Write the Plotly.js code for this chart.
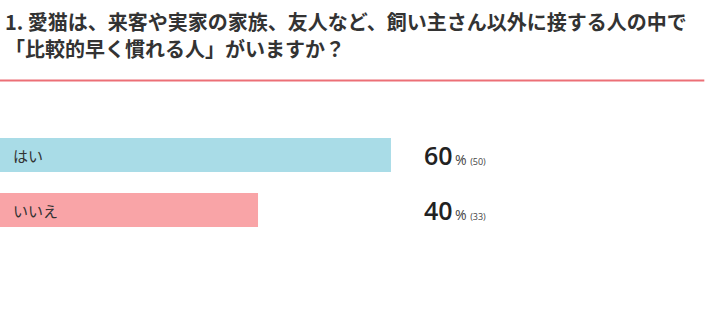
<!DOCTYPE html>
<html>
<head>
<meta charset="utf-8">
<script src="https://cdn.plot.ly/plotly-3.0.1.min.js"></script>
<style>html,body{margin:0;padding:0;background:#fff;}#chart{width:710px;height:332px;}</style>
</head>
<body>
<div id="chart"></div>
<script>
const titleLines = ["1. 愛猫は、来客や実家の家族、友人など、飼い主さん以外に接する人の中で", "「比較的早く慣れる人」がいますか？"];
const categories = ["はい", "いいえ"];
const counts = [50, 33];
const barColors = ["#a9dce7", "#f9a4a7"];

const total = counts.reduce((a, b) => a + b, 0);
const shares = counts.map(c => c / total * 100);
const pctLabels = shares.map(s => Math.round(s));

const jp = '"Noto Sans CJK JP", "Noto Sans", sans-serif';
const py = p => 1 + (99 - p) / 165;

const trace = {
  type: 'bar',
  orientation: 'h',
  y: categories,
  x: shares,
  width: 0.62,
  marker: {color: barColors, line: {width: 0}},
  hoverinfo: 'none'
};

const annotations = [];
titleLines.forEach((t, i) => annotations.push({
  x: 0.004, y: py([21, 48][i]), xref: 'paper', yref: 'paper',
  xanchor: 'left', yanchor: 'middle', showarrow: false,
  text: t,
  font: {family: jp, size: 20, color: '#333', weight: 700}
}));
categories.forEach((c, i) => {
  annotations.push({
    x: 1.7, y: c, xref: 'x', yref: 'y',
    xanchor: 'left', yanchor: 'middle', showarrow: false, yshift: -1,
    text: c,
    font: {family: jp, size: 15, color: '#333'}
  });
  annotations.push({
    x: 65.0, y: c, xref: 'x', yref: 'y',
    xanchor: 'left', yanchor: 'middle', showarrow: false,
    text: '<span style="font-size:25px;font-weight:600;fill:#222">' + pctLabels[i] + '</span><span style="font-size:14px">\u2009%</span> <span style="font-size:9px">(' + counts[i] + ')</span>',
    font: {family: '"Open Sans", Lato, sans-serif', color: '#444', size: 14}
  });
});

const layout = {
  width: 710, height: 332,
  margin: {l: 0, r: 0, t: 99, b: 68},
  paper_bgcolor: '#fff', plot_bgcolor: '#fff',
  showlegend: false,
  xaxis: {range: [0, 109.4], visible: false, fixedrange: true},
  yaxis: {type: 'category', range: [1.982, -1.018], visible: false, fixedrange: true},
  shapes: [{
    type: 'line', xref: 'paper', yref: 'paper',
    x0: 0, x1: 0.992, y0: py(80.5), y1: py(80.5),
    line: {color: '#ec6f76', width: 2}
  }],
  annotations: annotations
};

Plotly.newPlot('chart', [trace], layout, {displayModeBar: false, staticPlot: true});
</script>
</body>
</html>
